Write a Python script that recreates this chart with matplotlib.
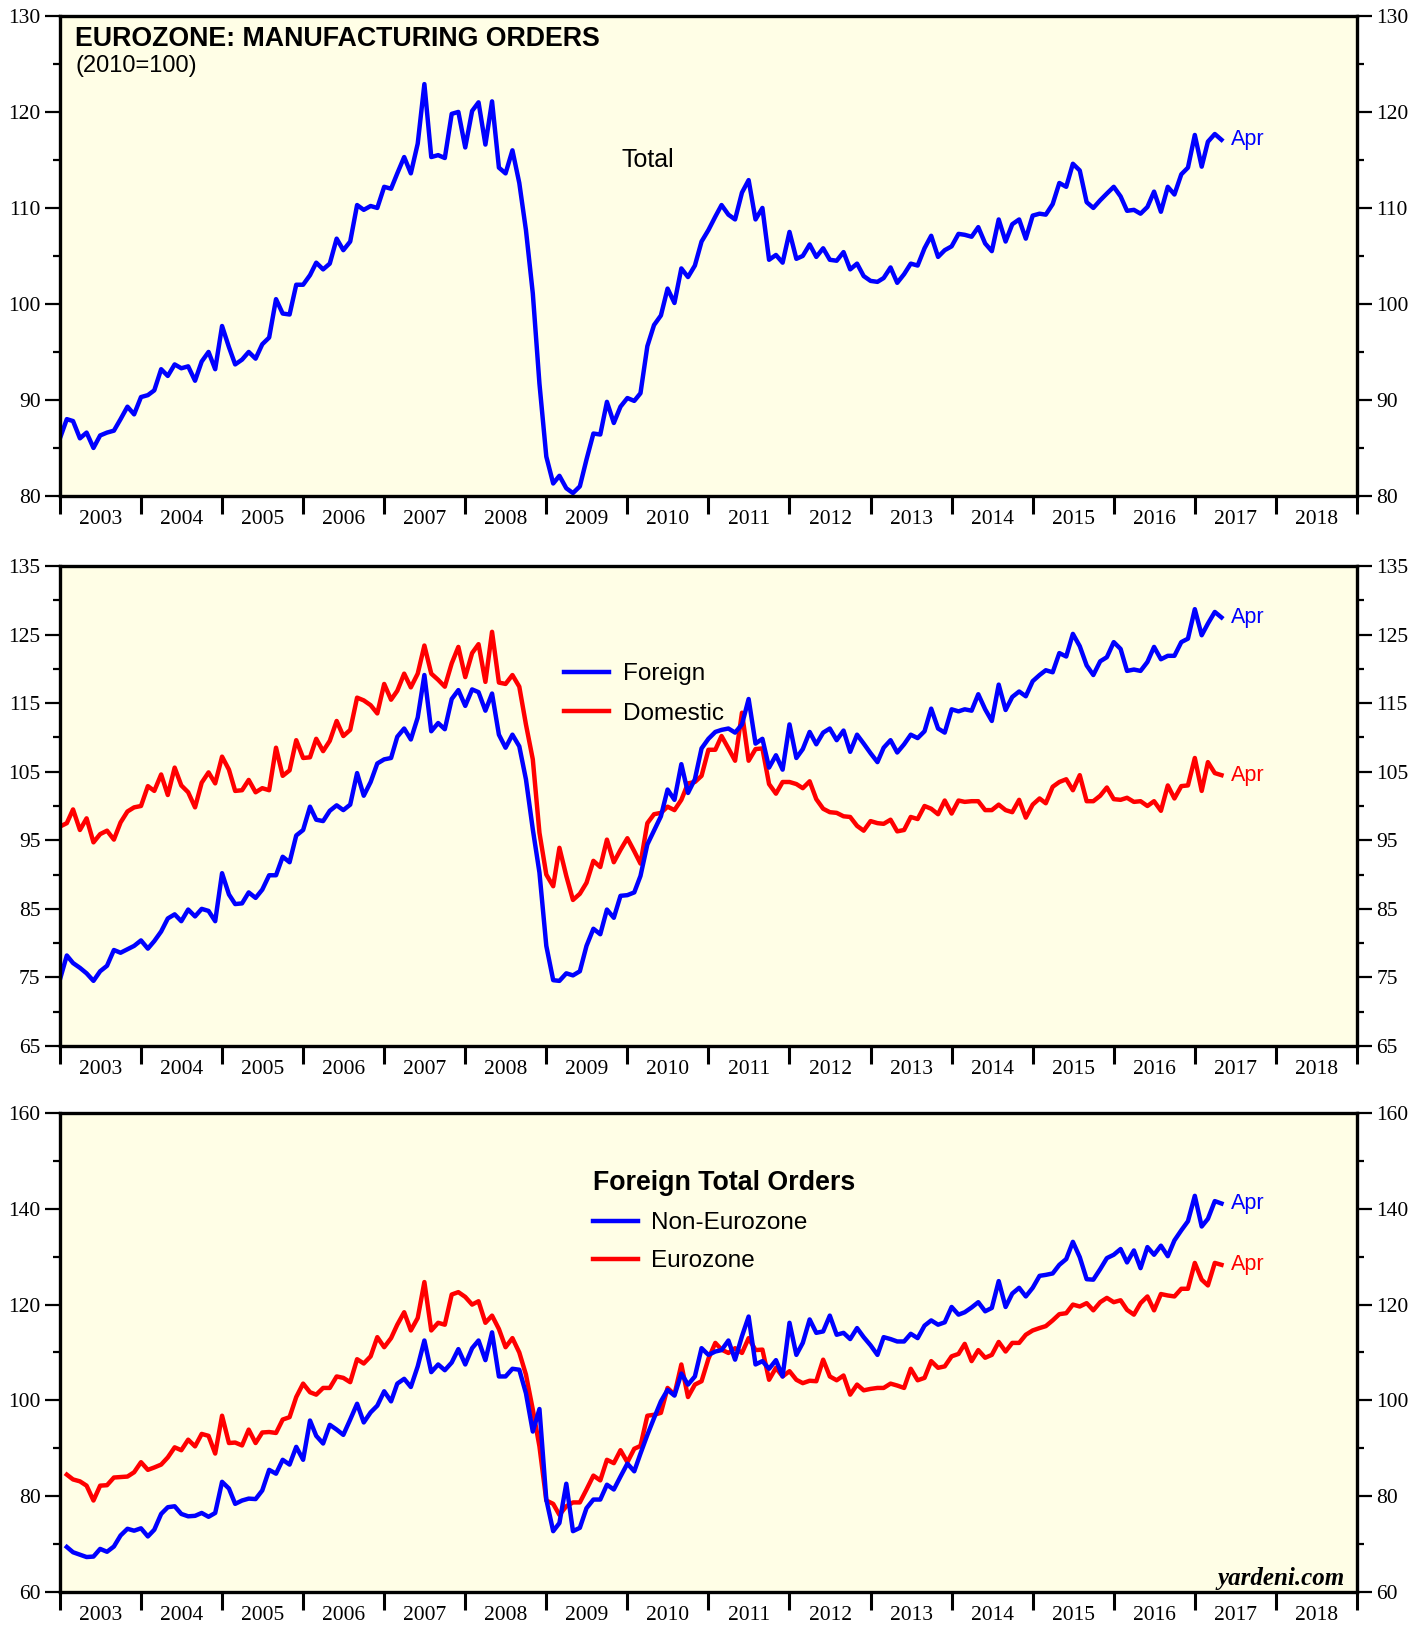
import numpy as np
import pandas as pd
import matplotlib
matplotlib.use("Agg")
import matplotlib.pyplot as plt
from matplotlib.ticker import FixedLocator, FixedFormatter, NullFormatter

# monthly index values, 2010=100
total = [86.0, 88.0, 87.8, 86.0, 86.6, 85.0, 86.3, 86.6, 86.8, 88.0, 89.3, 88.5,
         90.3, 90.5, 91.0, 93.2, 92.5, 93.7, 93.3, 93.5, 92.0, 94.0, 95.0, 93.2,
         97.7, 95.5, 93.7, 94.2, 95.0, 94.3, 95.8, 96.5, 100.5, 99.0, 98.9, 102.0,
         102.0, 103.0, 104.3, 103.6, 104.2, 106.8, 105.6, 106.5, 110.3, 109.8, 110.2, 110.0,
         112.2, 112.0, 113.6, 115.3, 113.6, 116.7, 122.9, 115.3, 115.5, 115.2, 119.8, 120.0,
         116.3, 120.1, 121.0, 116.6, 121.1, 114.2, 113.6, 116.0, 112.6, 107.7, 101.1, 91.7,
         84.1, 81.3, 82.1, 80.8, 80.3, 81.0, 83.8, 86.5, 86.4, 89.8, 87.6, 89.3,
         90.2, 89.9, 90.7, 95.6, 97.8, 98.8, 101.6, 100.1, 103.7, 102.8, 104.0, 106.5,
         107.7, 109.1, 110.3, 109.3, 108.8, 111.6, 112.9, 108.8, 110.0, 104.6, 105.1, 104.3,
         107.5, 104.7, 105.0, 106.2, 104.9, 105.8, 104.6, 104.5, 105.4, 103.6, 104.2, 102.9,
         102.4, 102.3, 102.7, 103.8, 102.2, 103.1, 104.2, 104.0, 105.8, 107.1, 104.9, 105.6,
         106.0, 107.3, 107.2, 107.0, 108.0, 106.3, 105.5, 108.8, 106.5, 108.3, 108.8, 106.8,
         109.2, 109.4, 109.3, 110.4, 112.6, 112.2, 114.6, 113.9, 110.6, 110.0, 110.8, 111.5,
         112.2, 111.2, 109.7, 109.8, 109.4, 110.1, 111.7, 109.6, 112.2, 111.4, 113.5, 114.2,
         117.6, 114.3, 116.9, 117.7, 117.1]

foreign = [74.7, 78.2, 77.1, 76.4, 75.6, 74.5, 75.9, 76.7, 79.0, 78.6, 79.1, 79.6,
           80.4, 79.2, 80.3, 81.7, 83.6, 84.2, 83.2, 84.9, 83.9, 85.0, 84.7, 83.2,
           90.2, 87.1, 85.7, 85.8, 87.4, 86.6, 87.8, 89.9, 89.9, 92.6, 91.8, 95.7,
           96.5, 99.9, 98.0, 97.8, 99.3, 100.1, 99.4, 100.2, 104.8, 101.5, 103.5, 106.2,
           106.8, 107.0, 110.1, 111.3, 109.7, 112.9, 119.1, 110.9, 112.1, 111.2, 115.6, 116.9,
           114.6, 117.0, 116.6, 113.9, 116.4, 110.4, 108.5, 110.4, 108.7, 103.9, 96.6, 90.3,
           79.6, 74.6, 74.5, 75.6, 75.3, 75.9, 79.6, 82.1, 81.3, 84.9, 83.7, 86.9,
           87.0, 87.4, 89.8, 94.4, 96.4, 98.5, 102.4, 100.9, 106.1, 101.9, 103.9, 108.4,
           109.8, 110.8, 111.1, 111.3, 110.7, 111.9, 115.6, 109.1, 109.8, 105.6, 107.4, 105.3,
           111.9, 107.0, 108.3, 110.8, 109.0, 110.7, 111.3, 109.6, 111.0, 107.9, 110.4, 109.1,
           107.7, 106.4, 108.5, 109.6, 107.8, 109.0, 110.4, 109.9, 110.9, 114.2, 111.3, 110.7,
           114.1, 113.8, 114.1, 113.9, 116.3, 114.1, 112.4, 117.7, 114.0, 115.9, 116.7, 116.0,
           118.2, 119.1, 119.8, 119.5, 122.3, 121.8, 125.1, 123.3, 120.5, 119.1, 121.1, 121.7,
           123.9, 122.9, 119.7, 119.9, 119.7, 121.0, 123.2, 121.4, 121.9, 121.9, 123.9, 124.4,
           128.7, 124.9, 126.6, 128.3, 127.5]

domestic = [97.0, 97.5, 99.5, 96.5, 98.2, 94.7, 95.9, 96.4, 95.1, 97.6, 99.2, 99.8,
            100.0, 102.9, 102.2, 104.6, 101.6, 105.6, 103.0, 102.0, 99.8, 103.4, 104.9, 103.3,
            107.2, 105.3, 102.2, 102.3, 103.8, 102.0, 102.6, 102.3, 108.5, 104.4, 105.2, 109.6,
            107.0, 107.1, 109.8, 108.0, 109.5, 112.4, 110.2, 111.1, 115.8, 115.4, 114.7, 113.5,
            117.8, 115.5, 116.8, 119.3, 117.3, 119.3, 123.4, 119.3, 118.4, 117.4, 120.8, 123.2,
            118.8, 122.3, 123.6, 118.1, 125.4, 118.0, 117.8, 119.1, 117.4, 111.9, 106.8, 96.1,
            90.0, 88.3, 93.9, 89.8, 86.3, 87.2, 88.8, 92.0, 91.1, 95.1, 91.8, 93.6,
            95.3, 93.4, 91.6, 97.5, 98.8, 99.0, 99.9, 99.4, 100.9, 103.3, 103.5, 104.4,
            108.2, 108.2, 110.2, 108.4, 106.6, 113.6, 106.6, 108.3, 108.4, 103.2, 101.8, 103.5,
            103.5, 103.2, 102.6, 103.6, 101.0, 99.6, 99.1, 99.0, 98.5, 98.4, 97.1, 96.4,
            97.8, 97.5, 97.4, 98.0, 96.3, 96.5, 98.4, 98.1, 100.0, 99.6, 98.8, 100.8,
            98.9, 100.8, 100.6, 100.7, 100.7, 99.4, 99.4, 100.2, 99.4, 99.1, 100.9, 98.3,
            100.2, 101.1, 100.4, 102.8, 103.5, 103.9, 102.3, 104.5, 100.7, 100.7, 101.5, 102.7,
            101.0, 100.9, 101.2, 100.6, 100.7, 100.0, 100.7, 99.3, 103.0, 101.1, 102.9, 103.0,
            107.0, 102.2, 106.4, 104.8, 104.5]

# foreign orders split, these start one month later
non_eurozone = [69.4, 68.3, 67.8, 67.3, 67.4, 69.0, 68.4, 69.5, 71.8, 73.2, 72.8, 73.3,
                71.6, 73.0, 76.3, 77.7, 77.9, 76.3, 75.8, 75.9, 76.5, 75.7, 76.5, 83.0,
                81.6, 78.4, 79.1, 79.5, 79.4, 81.2, 85.5, 84.7, 87.6, 86.6, 90.3, 87.6,
                95.8, 92.6, 91.0, 94.9, 93.9, 92.8, 96.0, 99.3, 95.4, 97.5, 98.9, 101.9,
                99.8, 103.5, 104.5, 102.8, 107.1, 112.5, 105.9, 107.5, 106.3, 107.9, 110.7, 107.5,
                110.9, 112.5, 108.4, 114.2, 105.0, 105.0, 106.6, 106.4, 101.5, 93.5, 98.2, 79.3,
                72.7, 74.4, 82.6, 72.7, 73.4, 77.5, 79.3, 79.3, 82.4, 81.4, 84.1, 86.8,
                85.2, 88.9, 92.8, 96.3, 99.8, 102.2, 101.0, 105.6, 103.3, 105.0, 110.9, 109.5,
                110.2, 110.5, 112.5, 108.5, 113.4, 117.5, 107.5, 108.2, 106.6, 108.4, 105.0, 116.2,
                109.5, 112.0, 116.9, 114.1, 114.4, 117.7, 113.7, 114.1, 112.8, 115.1, 113.2, 111.5,
                109.5, 113.2, 112.8, 112.3, 112.3, 113.9, 113.0, 115.6, 116.7, 115.8, 116.3, 119.5,
                117.9, 118.4, 119.4, 120.5, 118.6, 119.3, 124.9, 119.5, 122.3, 123.5, 121.7, 123.5,
                126.0, 126.2, 126.5, 128.3, 129.5, 133.1, 129.9, 125.3, 125.2, 127.4, 129.7, 130.4,
                131.6, 128.8, 131.3, 127.6, 132.0, 130.4, 132.3, 130.1, 133.4, 135.5, 137.4, 142.7,
                136.3, 137.9, 141.6, 141.1]

eurozone = [84.5, 83.5, 83.1, 82.2, 79.1, 82.2, 82.3, 83.9, 84.0, 84.1, 85.0, 87.1,
            85.5, 86.0, 86.6, 88.1, 90.2, 89.6, 91.8, 90.4, 93.0, 92.6, 88.9, 96.8,
            91.1, 91.2, 90.6, 93.9, 91.1, 93.3, 93.4, 93.2, 96.0, 96.5, 100.7, 103.5,
            101.7, 101.2, 102.6, 102.6, 105.0, 104.7, 103.8, 108.6, 107.7, 109.2, 113.2, 111.1,
            113.0, 115.8, 118.4, 114.6, 117.2, 124.7, 114.6, 116.2, 115.8, 122.1, 122.6, 121.6,
            120.0, 120.7, 116.2, 117.7, 114.9, 111.1, 113.0, 110.0, 105.4, 98.1, 90.4, 79.1,
            78.4, 76.1, 77.9, 78.7, 78.7, 81.4, 84.3, 83.3, 87.6, 86.9, 89.6, 87.1,
            89.9, 90.5, 96.8, 97.0, 97.4, 102.6, 101.2, 107.5, 100.7, 103.3, 104.0, 108.7,
            112.0, 110.6, 109.9, 110.9, 109.9, 113.0, 110.5, 110.6, 104.3, 106.8, 105.0, 106.1,
            104.3, 103.6, 104.1, 104.0, 108.5, 105.0, 104.2, 105.2, 101.2, 103.3, 102.1, 102.4,
            102.6, 102.6, 103.5, 103.1, 102.6, 106.6, 104.2, 104.7, 108.2, 106.8, 107.1, 109.2,
            109.7, 111.8, 108.2, 110.5, 108.9, 109.5, 112.2, 110.2, 112.0, 112.0, 113.7, 114.6,
            115.1, 115.5, 116.7, 118.0, 118.2, 120.0, 119.6, 120.3, 118.8, 120.5, 121.4, 120.5,
            120.9, 118.9, 117.9, 120.3, 121.7, 118.8, 122.2, 121.9, 121.7, 123.3, 123.3, 128.7,
            125.2, 124.0, 128.7, 128.3]

years = list(range(2003, 2019))
year_labels = [str(y) for y in years]

BG = "#FFFEE6"
BLUE = "#0000FF"
RED = "#FF0000"
SANS = "Liberation Sans"

plt.rcParams["font.family"] = "Liberation Serif"


def month_end_years(start, n):
    d = pd.date_range(start, periods=n, freq="ME")
    days = np.where(d.is_leap_year, 366, 365)
    return np.asarray(d.year + d.dayofyear / days, dtype=float)


def setup(ax, ymin, ymax, step):
    ax.set_facecolor(BG)
    ax.set_xlim(2003, 2019)
    ax.set_ylim(ymin, ymax)
    for s in ax.spines.values():
        s.set_linewidth(2.4)
    ax.xaxis.set_major_locator(FixedLocator(range(2003, 2020)))
    ax.xaxis.set_major_formatter(NullFormatter())
    ax.xaxis.set_minor_locator(FixedLocator([y + 0.5 for y in years]))
    ax.xaxis.set_minor_formatter(FixedFormatter(year_labels))
    ax.tick_params(axis="x", which="major", direction="out", length=13, width=2.2)
    ax.tick_params(axis="x", which="minor", length=0, pad=10, labelsize=15.5)
    ax.yaxis.set_major_locator(FixedLocator(np.arange(ymin, ymax + 1, step)))
    ax.yaxis.set_minor_locator(FixedLocator(np.arange(ymin + step / 2, ymax, step)))
    ax.yaxis.set_major_formatter(FixedFormatter([str(v) for v in range(ymin, ymax + 1, step)]))
    ax.tick_params(axis="y", which="both", direction="out", left=True, right=True,
                   labelleft=True, labelright=True)
    ax.tick_params(axis="y", which="major", length=11, width=1.6, labelsize=15.5, pad=3)
    ax.tick_params(axis="y", which="minor", length=5, width=1.6)


def apr(ax, x, y, color):
    ax.annotate("Apr", xy=(x[-1], y[-1]), xytext=(7, 0), textcoords="offset points",
                va="center", ha="left", color=color, fontsize=15.5, family=SANS)


fig = plt.figure(figsize=(14.27, 16.25), dpi=100)
ax1 = fig.add_axes([0.042, 0.6948, 0.9089, 0.2954])
ax2 = fig.add_axes([0.042, 0.3563, 0.9089, 0.2954])
ax3 = fig.add_axes([0.042, 0.0203, 0.9089, 0.2948])

x_top = month_end_years("2002-12-31", len(total))
x_bot = month_end_years("2003-01-31", len(non_eurozone))

# top: total orders
setup(ax1, 80, 130, 10)
ax1.plot(x_top, total, color=BLUE, lw=3.2)
apr(ax1, x_top, total, BLUE)
ax1.text(0.012, 0.979, "EUROZONE: MANUFACTURING ORDERS", transform=ax1.transAxes,
         ha="left", va="top", fontsize=19.3, fontweight="bold", family=SANS)
ax1.text(0.012, 0.895, "(2010=100)", transform=ax1.transAxes,
         ha="left", va="center", fontsize=17, family=SANS)
ax1.text(0.4333, 0.70, "Total", transform=ax1.transAxes,
         ha="left", va="center", fontsize=18, family=SANS)

# middle: foreign vs domestic
setup(ax2, 65, 135, 10)
ax2.plot(x_top, domestic, color=RED, lw=3.2, label="Domestic")
ax2.plot(x_top, foreign, color=BLUE, lw=3.2, label="Foreign")
apr(ax2, x_top, foreign, BLUE)
apr(ax2, x_top, domestic, RED)
h, l = ax2.get_legend_handles_labels()
ax2.legend(h[::-1], l[::-1], loc="upper left", bbox_to_anchor=(0.389, 0.797),
           frameon=False, handlelength=1.85, handletextpad=0.55,
           labelspacing=0.71, borderpad=0, borderaxespad=0,
           prop={"family": SANS, "size": 17.5})

# bottom: foreign split
setup(ax3, 60, 160, 20)
ax3.plot(x_bot, eurozone, color=RED, lw=3.2, label="Eurozone")
ax3.plot(x_bot, non_eurozone, color=BLUE, lw=3.2, label="Non-Eurozone")
apr(ax3, x_bot, non_eurozone, BLUE)
apr(ax3, x_bot, eurozone, RED)
h, l = ax3.get_legend_handles_labels()
ax3.legend(h[::-1], l[::-1], loc="upper left", bbox_to_anchor=(0.411, 0.881),
           frameon=False, handlelength=1.85, handletextpad=0.55,
           labelspacing=0.66, borderpad=0, borderaxespad=0,
           title="Foreign Total Orders", alignment="left",
           prop={"family": SANS, "size": 17.5},
           title_fontproperties={"family": SANS, "size": 19.3, "weight": "bold"})
ax3.text(0.9907, 0.015, "yardeni.com", transform=ax3.transAxes, ha="right",
         va="baseline", fontsize=18, fontstyle="italic", fontweight="bold")

fig.savefig("out.png", dpi=100, facecolor="white")
